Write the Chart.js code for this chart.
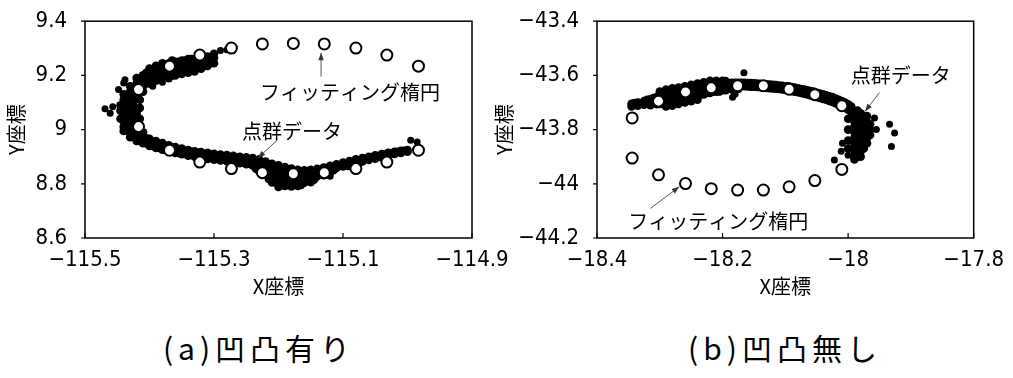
<!DOCTYPE html>
<html>
<head>
<meta charset="utf-8">
<script src="https://cdn.jsdelivr.net/npm/chart.js@4.4.0/dist/chart.umd.min.js"></script>
<style>
  body { margin: 0; background: #fff; width: 1013px; height: 378px; overflow: hidden; position: relative; }
  .box { position: absolute; top: -10px; height: 310px; }
  .cap { position: absolute; top: 330px; width: 240px; text-align: center; font: 30px "Noto Sans CJK JP", sans-serif; line-height: 34px; letter-spacing: 5px; color: #000; }
</style>
</head>
<body>
<div class="box" style="left:0;width:520px"><canvas id="chartA"></canvas></div>
<div class="box" style="left:488px;width:525px"><canvas id="chartB"></canvas></div>
<div class="cap" style="left:139px">(a)凹凸有り</div>
<div class="cap" style="left:665px">(b)凹凸無し</div>
<script>
// ---- (a) 凹凸有り ----
var xTicksA = [-115.5, -115.3, -115.1, -114.9];
var xLabelsA = ["−115.5", "−115.3", "−115.1", "−114.9"];
var yTicksA = [8.6, 8.8, 9, 9.2, 9.4];
var yLabelsA = ["8.6", "8.8", "9", "9.2", "9.4"];

// フィッティング楕円
var ellipseA = [
  [-114.983, 8.924], [-115.032, 8.880], [-115.080, 8.856], [-115.129, 8.841], [-115.177, 8.837],
  [-115.225, 8.841], [-115.273, 8.856], [-115.322, 8.880], [-115.369, 8.924], [-115.417, 9.011],
  [-115.417, 9.148], [-115.369, 9.234], [-115.322, 9.275], [-115.273, 9.301], [-115.225, 9.316],
  [-115.177, 9.318], [-115.129, 9.316], [-115.080, 9.301], [-115.032, 9.275], [-114.983, 9.234]
];

// 点群データ, dense band (each row: x, then the y values read at that x)
var cloudRowsA = [
  [-115.00, 8.925, 8.918], [-115.005, 8.922], [-115.01, 8.922, 8.914], [-115.015, 8.918], [-115.02, 8.918, 8.910],
  [-115.025, 8.912], [-115.03, 8.914, 8.904], [-115.035, 8.908], [-115.04, 8.910, 8.898], [-115.045, 8.902],
  [-115.05, 8.905, 8.893], [-115.055, 8.897], [-115.06, 8.900, 8.888], [-115.065, 8.892], [-115.07, 8.895, 8.882],
  [-115.075, 8.886], [-115.08, 8.890, 8.876], [-115.085, 8.880], [-115.09, 8.884, 8.870], [-115.095, 8.875],
  [-115.10, 8.878, 8.864], [-115.105, 8.868], [-115.11, 8.872, 8.858], [-115.115, 8.862, 8.850],
  [-115.12, 8.866, 8.850, 8.840], [-115.125, 8.858, 8.842], [-115.13, 8.860, 8.846, 8.832], [-115.135, 8.852, 8.836],
  [-115.14, 8.855, 8.840, 8.828], [-115.145, 8.846, 8.830, 8.815],
  [-115.15, 8.852, 8.836, 8.820, 8.806], [-115.155, 8.842, 8.826, 8.812], [-115.16, 8.850, 8.834, 8.818, 8.804],
  [-115.165, 8.842, 8.826, 8.810, 8.796],
  [-115.17, 8.852, 8.836, 8.820, 8.804, 8.792], [-115.175, 8.846, 8.828, 8.812, 8.798],
  [-115.18, 8.856, 8.840, 8.822, 8.806, 8.790], [-115.185, 8.850, 8.832, 8.814, 8.798],
  [-115.19, 8.862, 8.846, 8.828, 8.810, 8.792], [-115.195, 8.855, 8.838, 8.820, 8.802],
  [-115.20, 8.868, 8.850, 8.834, 8.816, 8.798, 8.788], [-115.205, 8.860, 8.842, 8.826, 8.808],
  [-115.21, 8.874, 8.856, 8.840, 8.822, 8.805], [-115.215, 8.868, 8.850, 8.834, 8.818],
  [-115.22, 8.882, 8.866, 8.850, 8.836], [-115.225, 8.876, 8.860, 8.844],
  [-115.23, 8.890, 8.876, 8.862, 8.846], [-115.235, 8.886, 8.870, 8.856],
  [-115.24, 8.895, 8.882, 8.868], [-115.245, 8.890, 8.876], [-115.25, 8.898, 8.886, 8.872], [-115.255, 8.892, 8.880],
  [-115.26, 8.900, 8.888, 8.876], [-115.265, 8.896, 8.882], [-115.27, 8.903, 8.891, 8.878], [-115.275, 8.898, 8.886],
  [-115.28, 8.906, 8.894, 8.883], [-115.285, 8.901, 8.889], [-115.29, 8.908, 8.897, 8.886], [-115.295, 8.904, 8.892],
  [-115.30, 8.911, 8.900, 8.889], [-115.305, 8.907, 8.895], [-115.31, 8.914, 8.903, 8.892], [-115.315, 8.910, 8.898],
  [-115.32, 8.917, 8.906, 8.895], [-115.325, 8.914, 8.902], [-115.33, 8.920, 8.910, 8.900], [-115.335, 8.918, 8.906],
  [-115.34, 8.925, 8.914, 8.904], [-115.345, 8.922, 8.910], [-115.35, 8.930, 8.919, 8.909], [-115.355, 8.928, 8.914],
  [-115.36, 8.936, 8.925, 8.914], [-115.365, 8.934, 8.920], [-115.37, 8.942, 8.930, 8.920], [-115.375, 8.940, 8.926],
  [-115.38, 8.950, 8.937, 8.926], [-115.385, 8.948, 8.932], [-115.39, 8.958, 8.944, 8.932], [-115.395, 8.956, 8.940],
  [-115.40, 8.966, 8.952, 8.940], [-115.405, 8.968, 8.950], [-115.41, 8.978, 8.962, 8.950, 8.99],
  [-115.415, 8.990, 8.972, 8.958], [-115.42, 9.00, 8.985, 8.970, 8.958, 9.02, 9.04, 9.06],
  [-115.43, 9.02, 9.00, 8.985, 8.972, 9.04, 9.06, 9.08, 9.10], [-115.435, 9.00, 9.02],
  [-115.44, 9.05, 9.03, 9.01, 8.995, 9.07, 9.09, 9.11, 9.13], [-115.445, 9.04, 9.07, 9.09],
  [-115.435, 9.06, 9.08, 9.10, 9.12], [-115.425, 9.03, 9.05, 9.07, 9.09, 9.11, 9.13, 9.15],
  [-115.415, 9.04, 9.08, 9.11, 9.14, 9.16], [-115.43, 9.12, 9.14, 9.16],
  [-115.42, 9.13, 9.15, 9.17, 9.19], [-115.41, 9.14, 9.16, 9.18, 9.20], [-115.405, 9.17, 9.19, 9.21],
  [-115.40, 9.17, 9.19, 9.21, 9.225], [-115.395, 9.18, 9.20, 9.22], [-115.39, 9.18, 9.20, 9.22, 9.235],
  [-115.385, 9.19, 9.21, 9.23], [-115.38, 9.19, 9.21, 9.23, 9.245], [-115.375, 9.20, 9.22, 9.24],
  [-115.37, 9.19, 9.21, 9.23, 9.245], [-115.365, 9.20, 9.22, 9.24, 9.255],
  [-115.36, 9.20, 9.22, 9.24, 9.25], [-115.355, 9.21, 9.23, 9.25], [-115.35, 9.205, 9.225, 9.245, 9.255],
  [-115.345, 9.215, 9.235, 9.255], [-115.34, 9.21, 9.23, 9.25, 9.26], [-115.335, 9.22, 9.24, 9.26],
  [-115.33, 9.215, 9.235, 9.255], [-115.325, 9.23, 9.25, 9.265], [-115.32, 9.225, 9.245, 9.265],
  [-115.315, 9.235, 9.255], [-115.31, 9.235, 9.255, 9.27], [-115.305, 9.26],
  [-115.30, 9.245, 9.265, 9.28]
];
var straysA = [
  [-115.29, 9.292], [-115.28, 9.295], [-115.469, 9.077], [-115.461, 9.060], [-115.457, 9.084],
  [-115.448, 9.148], [-115.440, 9.172], [-115.438, 9.184], [-114.995, 8.961], [-114.985, 8.954],
  [-115.120, 8.828], [-115.092, 8.863], [-115.395, 9.16], [-115.38, 9.175]
];

// ---- (b) 凹凸無し ----
var xTicksB = [-18.4, -18.2, -18, -17.8];
var xLabelsB = ["−18.4", "−18.2", "−18", "−17.8"];
var yTicksB = [-44.2, -44, -43.8, -43.6, -43.4];
var yLabelsB = ["−44.2", "−44", "−43.8", "−43.6", "−43.4"];

var ellipseB = [
  [-18.344, -43.757], [-18.344, -43.905], [-18.302, -43.967], [-18.259, -43.999], [-18.218, -44.018],
  [-18.176, -44.023], [-18.135, -44.023], [-18.094, -44.011], [-18.053, -43.988], [-18.010, -43.947],
  [-18.010, -43.712], [-18.053, -43.671], [-18.094, -43.651], [-18.135, -43.638], [-18.176, -43.638],
  [-18.218, -43.646], [-18.259, -43.661], [-18.302, -43.695]
];

var cloudRowsB = [
  [-18.345, -43.705, -43.715], [-18.34, -43.702], [-18.335, -43.700, -43.712], [-18.33, -43.704],
  [-18.325, -43.695, -43.708], [-18.32, -43.690, -43.702],
  [-18.315, -43.688, -43.700, -43.710], [-18.31, -43.684, -43.698], [-18.305, -43.680, -43.695, -43.706],
  [-18.30, -43.675, -43.690, -43.660, -43.705], [-18.295, -43.672, -43.688, -43.702],
  [-18.29, -43.668, -43.684, -43.652, -43.700, -43.715],
  [-18.285, -43.665, -43.680, -43.695], [-18.28, -43.662, -43.678, -43.648, -43.695, -43.712],
  [-18.275, -43.660, -43.675, -43.690], [-18.27, -43.658, -43.672, -43.645, -43.690, -43.705],
  [-18.265, -43.655, -43.670, -43.685], [-18.26, -43.652, -43.668, -43.640, -43.685, -43.700],
  [-18.255, -43.650, -43.665, -43.680], [-18.25, -43.648, -43.662, -43.635, -43.680, -43.695],
  [-18.245, -43.645, -43.660, -43.675], [-18.24, -43.642, -43.657, -43.630, -43.675, -43.690],
  [-18.235, -43.640, -43.655, -43.670], [-18.23, -43.638, -43.652, -43.625, -43.670],
  [-18.225, -43.635, -43.650, -43.665], [-18.22, -43.634, -43.648, -43.620, -43.665],
  [-18.215, -43.632, -43.647, -43.660], [-18.21, -43.631, -43.646, -43.620, -43.660],
  [-18.205, -43.630, -43.645, -43.658], [-18.20, -43.629, -43.643, -43.620, -43.655],
  [-18.195, -43.628, -43.642, -43.655], [-18.19, -43.628, -43.641], [-18.185, -43.627, -43.640, -43.652],
  [-18.18, -43.627, -43.640], [-18.175, -43.627, -43.640, -43.650], [-18.17, -43.627, -43.640],
  [-18.165, -43.627, -43.640], [-18.16, -43.628, -43.641], [-18.155, -43.628, -43.642], [-18.15, -43.629, -43.642],
  [-18.145, -43.630, -43.643], [-18.14, -43.631, -43.644], [-18.135, -43.632, -43.645], [-18.13, -43.633, -43.646],
  [-18.125, -43.634, -43.647], [-18.12, -43.635, -43.648], [-18.115, -43.636, -43.649], [-18.11, -43.637, -43.650],
  [-18.105, -43.638, -43.652], [-18.10, -43.640, -43.654], [-18.095, -43.640, -43.655], [-18.09, -43.643, -43.658],
  [-18.085, -43.645, -43.660], [-18.08, -43.648, -43.662], [-18.075, -43.650, -43.665], [-18.07, -43.652, -43.668],
  [-18.065, -43.655, -43.670], [-18.06, -43.658, -43.674], [-18.055, -43.660, -43.677], [-18.05, -43.664, -43.680],
  [-18.045, -43.667, -43.683], [-18.04, -43.670, -43.687], [-18.035, -43.673, -43.690], [-18.03, -43.677, -43.694],
  [-18.025, -43.680, -43.698], [-18.02, -43.685, -43.703], [-18.015, -43.690, -43.708], [-18.01, -43.695, -43.714],
  [-18.005, -43.700, -43.720], [-18.00, -43.707, -43.727], [-17.995, -43.715, -43.735],
  [-17.99, -43.75, -43.77, -43.79, -43.81, -43.83, -43.85, -43.87, -43.89, -43.91],
  [-17.985, -43.73, -43.76, -43.78, -43.80, -43.82, -43.84, -43.86, -43.88, -43.90],
  [-17.98, -43.74, -43.76, -43.78, -43.80, -43.82, -43.84, -43.86, -43.88, -43.90],
  [-17.975, -43.75, -43.77, -43.79, -43.81, -43.83, -43.85, -43.87],
  [-17.97, -43.75, -43.77, -43.79, -43.81, -43.83, -43.85], [-17.965, -43.78, -43.80, -43.82],
  [-18.00, -43.76, -43.80, -43.84, -43.87]
];
var straysB = [
  [-17.958, -43.757], [-17.955, -43.800], [-17.934, -43.780], [-17.926, -43.813], [-17.931, -43.862],
  [-18.022, -43.912], [-18.009, -43.850], [-18.011, -43.880], [-18.000, -43.895], [-18.166, -43.590],
  [-18.184, -43.681], [-18.180, -43.670], [-18.300, -43.660], [-18.250, -43.635], [-18.220, -43.620],
  [-18.195, -43.618], [-18.240, -43.632], [-18.205, -43.662]
];

// annotation text + arrow (text centre, arrow tail, arrow head) in data units
var notesA = [
  { text: "フィッティング楕円", at: [-115.089, 9.137], from: [-115.134, 9.196], to: [-115.134, 9.284] },
  { text: "点群データ", at: [-115.179, 8.993], from: [-115.202, 8.961], to: [-115.232, 8.895] }
];
var notesB = [
  { text: "点群データ", at: [-17.916, -43.600], from: [-17.950, -43.663], to: [-17.973, -43.733] },
  { text: "フィッティング楕円", at: [-18.207, -44.137], from: [-18.315, -44.091], to: [-18.269, -44.011] }
];

var tickFont = { family: "'Liberation Sans Narrow', 'DejaVu Sans Condensed', sans-serif", size: 22 };
var titleFont = { family: "'Noto Sans CJK JP', sans-serif", size: 20 };

function toPoints(list) {
  return list.map(function(p) { return { x: p[0], y: p[1] }; });
}
function rowsToPoints(rows) {
  var pts = [];
  rows.forEach(function(r) {
    for (var i = 1; i < r.length; i++) pts.push({ x: r[0], y: r[i] });
  });
  return pts;
}

var framePlugin = {
  id: "frame",
  afterDatasetsDraw: function(chart, args, opts) {
    var ctx = chart.ctx, a = chart.chartArea;
    var xs = chart.scales.x, ys = chart.scales.y;
    ctx.save();
    ctx.strokeStyle = "#000";
    ctx.lineWidth = 1.5;
    ctx.strokeRect(a.left, a.top, a.right - a.left, a.bottom - a.top);
    ctx.lineWidth = 1.2;
    ctx.beginPath();
    opts.xTicks.forEach(function(v) {
      var px = xs.getPixelForValue(v);
      ctx.moveTo(px, a.bottom);
      ctx.lineTo(px, a.bottom - 5);
    });
    opts.yTicks.forEach(function(v) {
      var py = ys.getPixelForValue(v);
      ctx.moveTo(a.left, py);
      ctx.lineTo(a.left - 4, py);
    });
    ctx.stroke();

    // annotations
    ctx.font = "20px 'Noto Sans CJK JP', sans-serif";
    ctx.textAlign = "center";
    ctx.textBaseline = "middle";
    opts.notes.forEach(function(n) {
      ctx.fillStyle = "#000";
      ctx.fillText(n.text, xs.getPixelForValue(n.at[0]), ys.getPixelForValue(n.at[1]));
      var x1 = xs.getPixelForValue(n.from[0]), y1 = ys.getPixelForValue(n.from[1]);
      var x2 = xs.getPixelForValue(n.to[0]), y2 = ys.getPixelForValue(n.to[1]);
      var ang = Math.atan2(y2 - y1, x2 - x1);
      ctx.strokeStyle = "#555";
      ctx.fillStyle = "#333";
      ctx.lineWidth = 1;
      ctx.beginPath();
      ctx.moveTo(x1, y1);
      ctx.lineTo(x2, y2);
      ctx.stroke();
      ctx.beginPath();
      ctx.moveTo(x2, y2);
      ctx.lineTo(x2 - 8 * Math.cos(ang - 0.35), y2 - 8 * Math.sin(ang - 0.35));
      ctx.lineTo(x2 - 8 * Math.cos(ang + 0.35), y2 - 8 * Math.sin(ang + 0.35));
      ctx.closePath();
      ctx.fill();
    });
    ctx.restore();
  }
};

function makeChart(id, ellipse, cloudRows, strays, xTicks, xLabels, yTicks, yLabels, notes, yAxisWidth, padRight) {
  var ctx = document.getElementById(id);
  return new Chart(ctx, {
    type: "scatter",
    data: {
      datasets: [
        {
          label: "フィッティング楕円",
          data: toPoints(ellipse),
          pointRadius: 5.5,
          pointBorderWidth: 2,
          pointBackgroundColor: "#fff",
          pointBorderColor: "#000",
          order: 1
        },
        {
          label: "点群データ",
          data: rowsToPoints(cloudRows),
          pointRadius: 4.3,
          pointBorderWidth: 0,
          pointBackgroundColor: "#000",
          order: 2
        },
        {
          label: "点群データ",
          data: toPoints(strays),
          pointRadius: 3.5,
          pointBorderWidth: 0,
          pointBackgroundColor: "#000",
          order: 3
        }
      ]
    },
    options: {
      responsive: true,
      maintainAspectRatio: false,
      animation: false,
      events: [],
      layout: { padding: { top: 20, right: padRight, left: 0, bottom: 0 } },
      plugins: {
        legend: { display: false },
        tooltip: { enabled: false },
        frame: { xTicks: xTicks, yTicks: yTicks, notes: notes }
      },
      scales: {
        x: {
          type: "linear",
          min: xTicks[0],
          max: xTicks[xTicks.length - 1],
          grid: { display: false, drawTicks: false },
          border: { display: false },
          afterBuildTicks: function(s) { s.ticks = xTicks.map(function(v) { return { value: v }; }); },
          afterFit: function(s) { s.height = 62; },
          ticks: {
            maxRotation: 0,
            padding: 9,
            color: "#000",
            font: tickFont,
            callback: function(v) { return xLabels[xTicks.indexOf(v)]; }
          },
          title: { display: true, text: "X座標", color: "#000", font: titleFont, padding: { top: 0, bottom: 2 } }
        },
        y: {
          type: "linear",
          min: yTicks[0],
          max: yTicks[yTicks.length - 1],
          grid: { display: false, drawTicks: false },
          border: { display: false },
          afterBuildTicks: function(s) { s.ticks = yTicks.map(function(v) { return { value: v }; }); },
          afterFit: function(s) { s.width = yAxisWidth; },
          ticks: {
            padding: 18,
            color: "#000",
            font: tickFont,
            callback: function(v) { return yLabels[yTicks.indexOf(v)]; }
          },
          title: { display: true, text: "Y座標", color: "#000", font: titleFont, padding: { top: 4, bottom: 0 } }
        }
      }
    },
    plugins: [framePlugin]
  });
}

makeChart("chartA", ellipseA, cloudRowsA, straysA, xTicksA, xLabelsA, yTicksA, yLabelsA, notesA, 85, 48);
makeChart("chartB", ellipseB, cloudRowsB, straysB, xTicksB, xLabelsB, yTicksB, yLabelsB, notesB, 109, 28);
</script>
</body>
</html>
